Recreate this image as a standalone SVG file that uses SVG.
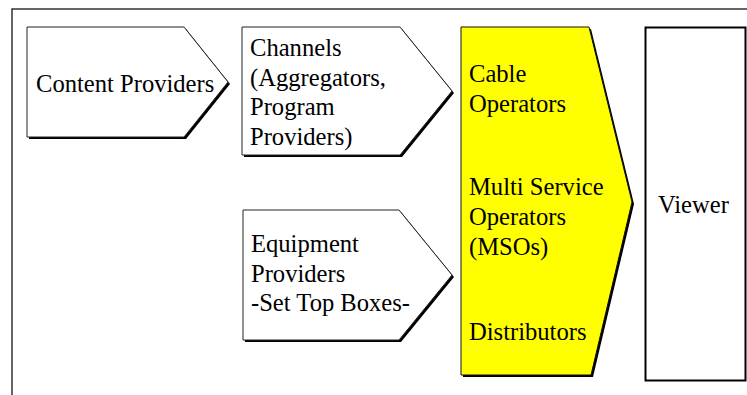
<svg xmlns="http://www.w3.org/2000/svg" width="747" height="395" viewBox="0 0 747 395">
<defs>
<style>
.t{font-family:"Liberation Serif","Times New Roman",serif;font-size:24.6px;fill:#000}
.sh{fill:#000}
.box{fill:#fff;stroke:#222;stroke-width:1}
.yel{fill:#ffff00;stroke:#111;stroke-width:1}
</style>
</defs>
<rect width="747" height="395" fill="#fff"/>
<g id="frame">
<path d="M12,395 V9 H747" fill="none" stroke="#333" stroke-width="1.5"/>
</g>
<g id="connectors"></g>
<g id="content-providers">
<polygon class="sh" points="29,29 186,29 230,84 186,139 29,139"/>
<polygon class="box" points="27,27 184,27 228,82 184,137 27,137"/>
<text class="t" x="36" y="92">Content Providers</text>
</g>
<g id="channels">
<polygon class="sh" points="244,29 402,29 454,93 402,157 244,157"/>
<polygon class="box" points="242,27 400,27 452,91 400,155 242,155"/>
<text class="t" x="250" y="56">Channels</text>
<text class="t" x="250" y="85.5">(Aggregators,</text>
<text class="t" x="250" y="115">Program</text>
<text class="t" x="250" y="144.5">Providers)</text>
</g>
<g id="equipment-providers">
<polygon class="sh" points="245,212 401,212 454,277 401,342 245,342"/>
<polygon class="box" points="243,210 399,210 452,275 399,340 243,340"/>
<text class="t" x="251" y="252">Equipment</text>
<text class="t" x="251" y="282">Providers</text>
<text class="t" x="251" y="311">-Set Top Boxes-</text>
</g>
<g id="operators">
<polygon class="sh" points="463,29 591,29 634,204 593,377 463,377"/>
<polygon class="yel" points="461,27 589,27 632,202 591,375 461,375"/>
<text class="t" x="469" y="82">Cable</text>
<text class="t" x="469" y="111.5">Operators</text>
<text class="t" x="469" y="195">Multi Service</text>
<text class="t" x="469" y="225">Operators</text>
<text class="t" x="469" y="255">(MSOs)</text>
<text class="t" x="469" y="340">Distributors</text>
</g>
<g id="viewer">
<rect x="645.5" y="27.5" width="100" height="353" fill="#fff" stroke="#000" stroke-width="2"/>
<text class="t" x="658" y="213">Viewer</text>
</g>
</svg>
